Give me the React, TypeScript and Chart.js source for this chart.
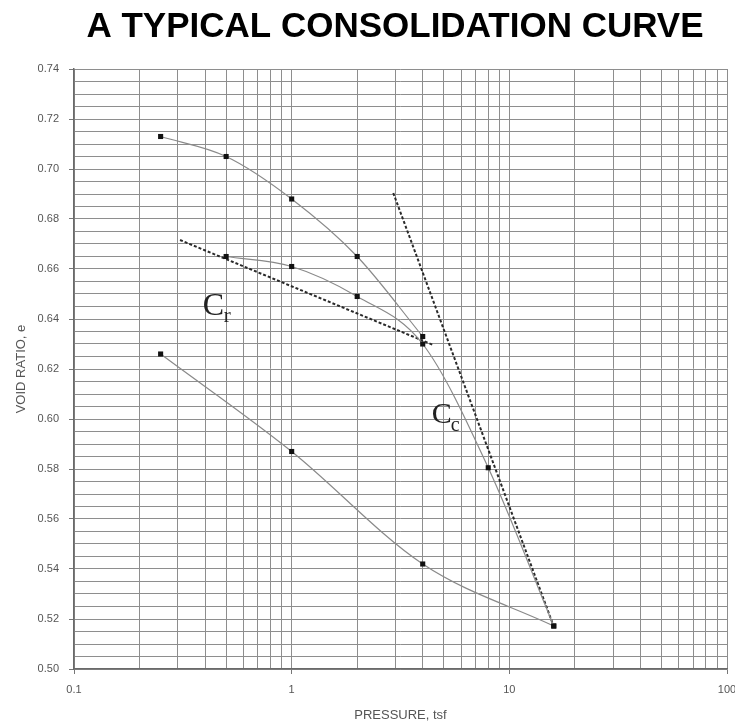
import React, { useEffect, useRef } from "react";
import { Chart, registerables } from "chart.js";

Chart.register(...registerables);

const TITLE = "A TYPICAL CONSOLIDATION CURVE";
const X_TITLE = "PRESSURE, tsf";
const Y_TITLE = "VOID RATIO, e";

// Virgin loading branch
const loadP = [0.25, 0.5, 1, 2, 4];
const loadE = [0.713, 0.705, 0.688, 0.665, 0.633];
// Reloading branch continuing to the end of loading
const reloadP = [0.5, 1, 2, 4, 8, 16];
const reloadE = [0.665, 0.661, 0.649, 0.63, 0.5805, 0.5172];
// Final unloading branch
const unloadP = [0.25, 1, 4, 16];
const unloadE = [0.626, 0.587, 0.542, 0.5172];
// Construction lines
const crP = [0.307, 4.47];
const crE = [0.6716, 0.6296];
const ccP = [2.93, 16];
const ccE = [0.6904, 0.517];

const X_LABELS = [0.1, 1, 10, 100];
const Y_MIN = 0.5;
const Y_MAX = 0.74;

const pts = (xs: number[], ys: number[]) => xs.map((x, i) => ({ x, y: ys[i] }));

export default function App() {
  const ref = useRef<HTMLCanvasElement | null>(null);

  useEffect(() => {
    if (!ref.current) return;
    const curve = (data: any) => ({
      data,
      borderColor: "#8a8a8a",
      borderWidth: 1.2,
      pointStyle: "rect",
      pointRadius: 3.6,
      pointBackgroundColor: "#111",
      pointBorderColor: "#111",
      pointBorderWidth: 0,
      cubicInterpolationMode: "monotone",
      fill: false,
    });
    const dashed = (data: any) => ({
      data,
      borderColor: "#2a2a2a",
      borderWidth: 2,
      borderDash: [3, 2],
      pointRadius: 0,
      tension: 0,
      fill: false,
    });

    const overlay = {
      id: "overlay",
      afterDraw(chart: any) {
        const ctx = chart.ctx;
        const xs = chart.scales.x;
        const ys = chart.scales.y;
        ctx.save();
        ctx.fillStyle = "#000";
        ctx.textAlign = "center";
        ctx.textBaseline = "alphabetic";
        ctx.font = "bold 35px 'Liberation Sans', Arial, sans-serif";
        ctx.fillText(TITLE, 395, 37);
        // C_r label
        ctx.fillStyle = "#222";
        ctx.textAlign = "left";
        ctx.font = "32px 'Liberation Serif', 'Times New Roman', serif";
        const crx = xs.getPixelForValue(0.39);
        const cry = ys.getPixelForValue(0.6416);
        ctx.fillText("C", crx, cry);
        ctx.font = "21px 'Liberation Serif', 'Times New Roman', serif";
        ctx.fillText("r", crx + 21, cry + 7);
        // C_c label
        ctx.font = "30px 'Liberation Serif', 'Times New Roman', serif";
        const ccx = xs.getPixelForValue(4.4);
        const ccy = ys.getPixelForValue(0.5985);
        ctx.fillText("C", ccx, ccy);
        ctx.font = "20px 'Liberation Serif', 'Times New Roman', serif";
        ctx.fillText("c", ccx + 19, ccy + 8);
        ctx.restore();
      },
    };

    const tickFont = { size: 11, family: "'Liberation Sans', Arial, sans-serif" };
    const titleFont = { size: 13, family: "'Liberation Sans', Arial, sans-serif" };

    const chart = new Chart(ref.current, {
      type: "line",
      data: {
        datasets: [
          curve(pts(loadP, loadE)),
          curve(pts(reloadP, reloadE)),
          curve(pts(unloadP, unloadE)),
          dashed(pts(crP, crE)),
          dashed(pts(ccP, ccE)),
        ] as any,
      },
      options: {
        responsive: false,
        animation: false,
        layout: { padding: { top: 69, right: 8, left: 0, bottom: 0 } },
        plugins: {
          legend: { display: false },
          tooltip: { enabled: false },
          title: { display: false },
        },
        scales: {
          x: {
            type: "logarithmic",
            min: 0.1,
            max: 100,
            afterFit(scale: any) {
              scale.height = 54;
              scale.paddingLeft = 0;
              scale.paddingRight = 0;
            },
            afterBuildTicks(scale: any) {
              const t: any[] = [];
              [0.1, 1, 10].forEach((d) => {
                for (let k = 1; k <= 9; k++) t.push({ value: +(d * k).toPrecision(3) });
              });
              t.push({ value: 100 });
              scale.ticks = t;
            },
            grid: {
              color: "#8e8e8e",
              lineWidth: 1,
              tickLength: 5,
              tickColor: (c: any) =>
                X_LABELS.includes(c.tick?.value) ? "#777" : "rgba(0,0,0,0)",
            },
            border: { color: "#6a6a6a", width: 1.5 },
            ticks: {
              autoSkip: false,
              maxRotation: 0,
              padding: 9,
              color: "#555",
              font: tickFont,
              callback: (v: any) => (X_LABELS.includes(Number(v)) ? String(v) : ""),
            },
            title: {
              display: true,
              text: X_TITLE,
              color: "#555",
              font: titleFont,
              padding: { top: 0, bottom: 0 },
            },
          },
          y: {
            type: "linear",
            min: Y_MIN,
            max: Y_MAX,
            afterFit(scale: any) {
              scale.width = 74;
              scale.paddingTop = 0;
              scale.paddingBottom = 0;
            },
            grid: {
              color: "#8e8e8e",
              lineWidth: 1,
              tickLength: 5,
              tickColor: (c: any) =>
                Math.abs(Math.round(c.tick?.value * 50) - c.tick?.value * 50) < 1e-6
                  ? "#777"
                  : "rgba(0,0,0,0)",
            },
            border: { color: "#6a6a6a", width: 1.5 },
            ticks: {
              stepSize: 0.005,
              autoSkip: false,
              padding: 10,
              color: "#555",
              font: tickFont,
              callback: (v: any) => {
                const n = Number(v);
                return Math.abs(Math.round(n * 50) - n * 50) < 1e-6 ? n.toFixed(2) : "";
              },
            },
            title: {
              display: true,
              text: Y_TITLE,
              color: "#555",
              font: titleFont,
              padding: { top: 14, bottom: 0 },
            },
          },
        },
      },
      plugins: [overlay],
    } as any);
    return () => chart.destroy();
  }, []);

  return (
    <div style={{ position: "absolute", left: 0, top: 0, width: 735, height: 723, background: "#fff" }}>
      <canvas ref={ref} width={735} height={723} style={{ display: "block" }} />
    </div>
  );
}
